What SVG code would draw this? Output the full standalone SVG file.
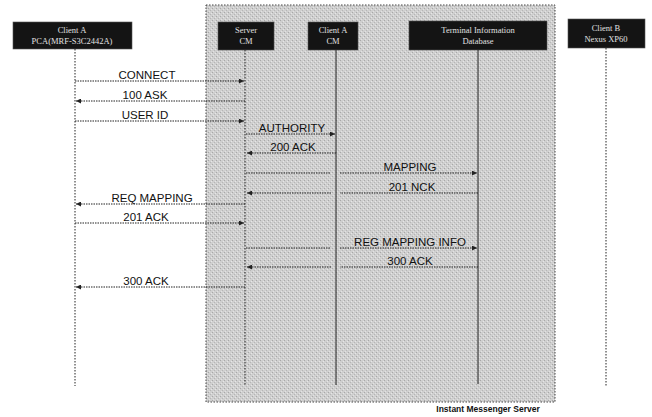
<svg xmlns="http://www.w3.org/2000/svg" width="652" height="417" viewBox="0 0 652 417">
<defs>
<pattern id="tex" width="4" height="4" patternUnits="userSpaceOnUse">
<rect width="4" height="4" fill="#cfcfcf"/>
<rect x="0" y="0" width="1" height="1" fill="#a8a8a8"/>
<rect x="2" y="2" width="1" height="1" fill="#b6b6b6"/>
<rect x="3" y="1" width="1" height="1" fill="#e6e6e6"/>
<rect x="1" y="3" width="1" height="1" fill="#e2e2e2"/>
</pattern>
<marker id="ah" viewBox="0 0 6 6" refX="6" refY="3" markerWidth="5" markerHeight="5" orient="auto">
<path d="M0,0 L6,3 L0,6 z" fill="#222"/>
</marker>
</defs>
<style>
.box{fill:#141414;stroke:#555;stroke-width:0.6}
.bt{font-family:"Liberation Serif",serif;font-size:8.5px;fill:#e0e0e0;text-anchor:middle}
.ll{stroke:#222;stroke-width:1;fill:none}
.dl{stroke:#222;stroke-width:1;stroke-dasharray:1.5 1.5;fill:none}
.msg{stroke:#222;stroke-width:1;stroke-dasharray:1.5 1;fill:none}
.ml{font-family:"Liberation Sans",Arial,sans-serif;font-size:11.5px;fill:#111;text-anchor:middle}
</style>
<rect width="652" height="417" fill="#ffffff"/>
<g id="ims-server">
<rect x="206" y="5" width="349" height="397" fill="url(#tex)" stroke="#444" stroke-width="1" stroke-dasharray="1.5 1.5"/>
<text x="488" y="412" font-family="Liberation Sans,Arial,sans-serif" font-size="8.5" font-weight="bold" fill="#111" text-anchor="middle">Instant Messenger Server</text>
</g>
<g id="client-a">
<rect class="box" x="13" y="22" width="119" height="27"/>
<text class="bt" x="72" y="33">Client A</text>
<text class="bt" x="72" y="44">PCA(MRF-S3C2442A)</text>
<line class="dl" x1="75" y1="49" x2="75" y2="386"/>
</g>
<g id="server-cm">
<rect class="box" x="218" y="22" width="56" height="28"/>
<text class="bt" x="246" y="33">Server</text>
<text class="bt" x="246" y="44">CM</text>
<line class="dl" x1="245" y1="50" x2="245" y2="385"/>
</g>
<g id="client-a-cm">
<rect class="box" x="308" y="22" width="50" height="28"/>
<text class="bt" x="333" y="33">Client A</text>
<text class="bt" x="333" y="44">CM</text>
<line class="ll" x1="336" y1="50" x2="336" y2="385"/>
</g>
<g id="terminal-db">
<rect class="box" x="409" y="21" width="138" height="29"/>
<text class="bt" x="478" y="33">Terminal Information</text>
<text class="bt" x="478" y="44">Database</text>
<line class="ll" x1="478" y1="50" x2="478" y2="384"/>
</g>
<g id="client-b">
<rect class="box" x="568" y="19" width="77" height="29"/>
<text class="bt" x="606" y="31">Client B</text>
<text class="bt" x="606" y="42">Nexus XP60</text>
<line class="dl" x1="606" y1="48" x2="606" y2="386"/>
</g>
<g id="connectors">
<line class="msg" x1="75" y1="81" x2="244" y2="81" marker-end="url(#ah)"/>
<line class="msg" x1="245" y1="101" x2="76" y2="101" marker-end="url(#ah)"/>
<line class="msg" x1="75" y1="121" x2="244" y2="121" marker-end="url(#ah)"/>
<line class="msg" x1="246" y1="134" x2="335" y2="134" marker-end="url(#ah)"/>
<line class="msg" x1="336" y1="153" x2="247" y2="153" marker-end="url(#ah)"/>
<line class="msg" x1="246" y1="173" x2="331" y2="173"/>
<line class="msg" x1="340" y1="173" x2="477" y2="173" marker-end="url(#ah)"/>
<line class="msg" x1="478" y1="193" x2="340" y2="193"/>
<line class="msg" x1="331" y1="193" x2="247" y2="193" marker-end="url(#ah)"/>
<line class="msg" x1="245" y1="204" x2="76" y2="204" marker-end="url(#ah)"/>
<line class="msg" x1="75" y1="223" x2="244" y2="223" marker-end="url(#ah)"/>
<line class="msg" x1="246" y1="248" x2="331" y2="248"/>
<line class="msg" x1="340" y1="248" x2="477" y2="248" marker-end="url(#ah)"/>
<line class="msg" x1="478" y1="267" x2="340" y2="267"/>
<line class="msg" x1="331" y1="267" x2="247" y2="267" marker-end="url(#ah)"/>
<line class="msg" x1="245" y1="287" x2="76" y2="287" marker-end="url(#ah)"/>
<text class="ml" x="147" y="79">CONNECT</text>
<text class="ml" x="145" y="99">100 ASK</text>
<text class="ml" x="145" y="119">USER ID</text>
<text class="ml" x="292" y="132">AUTHORITY</text>
<text class="ml" x="293" y="151">200 ACK</text>
<text class="ml" x="410" y="171">MAPPING</text>
<text class="ml" x="412" y="191">201 NCK</text>
<text class="ml" x="152" y="202">REQ MAPPING</text>
<text class="ml" x="146" y="221">201 ACK</text>
<text class="ml" x="410" y="246">REG MAPPING INFO</text>
<text class="ml" x="410" y="265">300 ACK</text>
<text class="ml" x="146" y="285">300 ACK</text>
</g>
</svg>
